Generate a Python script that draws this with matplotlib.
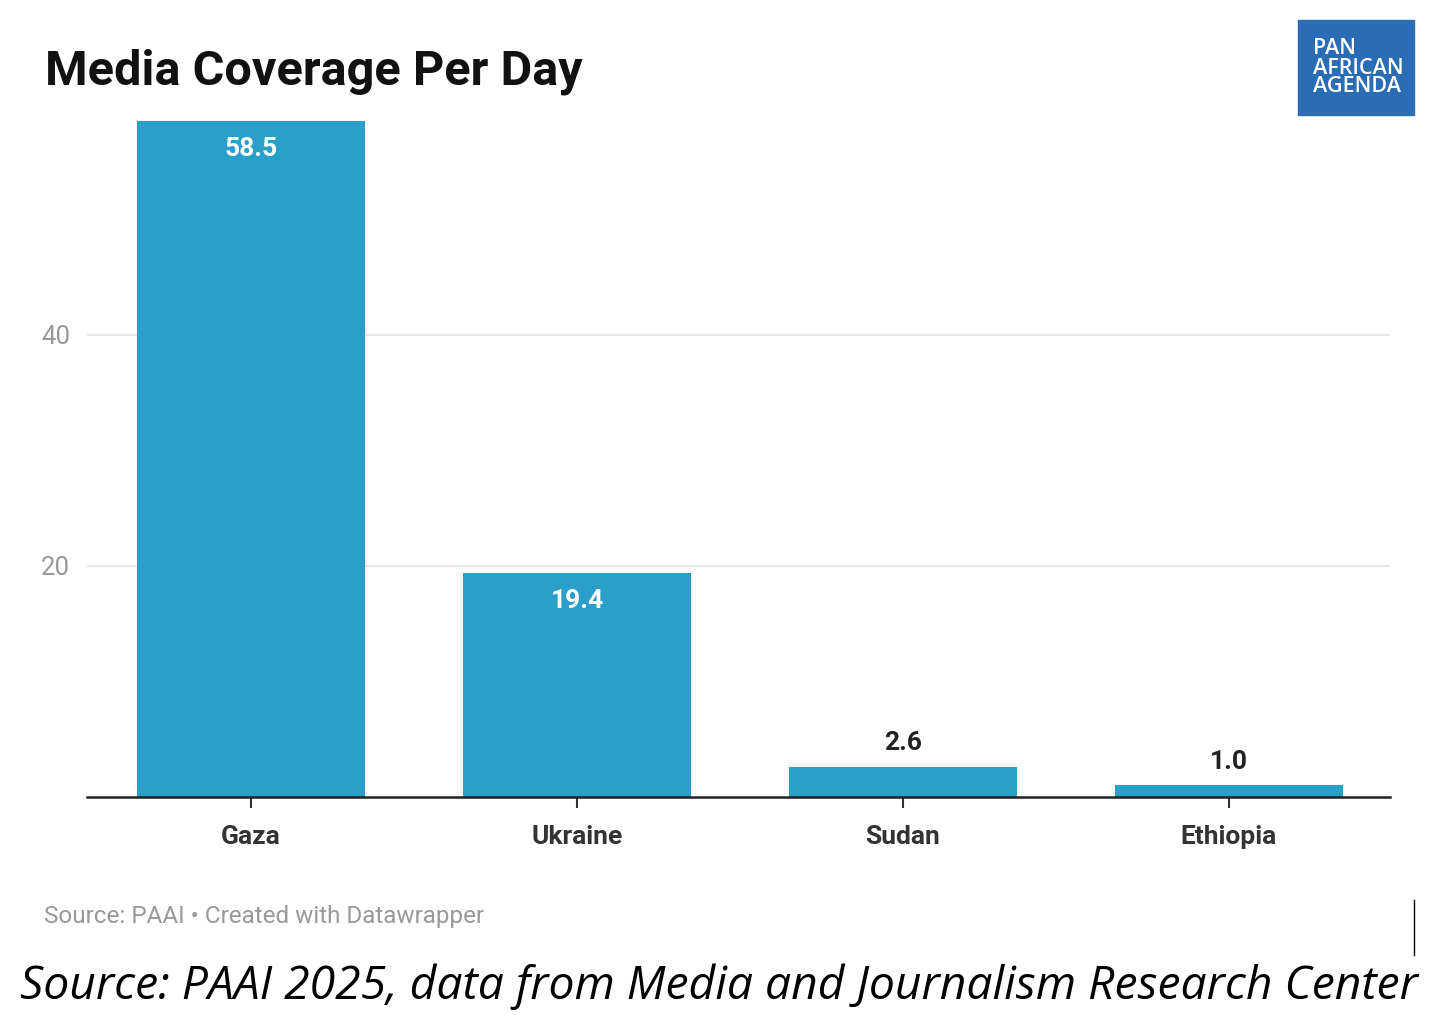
import matplotlib.pyplot as plt
from matplotlib.patches import Rectangle

categories = ['Gaza', 'Ukraine', 'Sudan', 'Ethiopia']
values = [58.5, 19.4, 2.6, 1.0]
yticks = [20, 40]

fig = plt.figure(figsize=(14.45, 10.36), dpi=100)
ax = fig.add_axes([87/1445, 1-797/1036, (1390-87)/1445, (797-121)/1036])

x = range(len(categories))
ax.bar(x, values, width=0.7, color='#2a9fc9', zorder=2)
ax.set_xlim(-0.503, 3.494)
ax.set_ylim(0, 58.5)

for i, v in enumerate(values):
    if v > 10:
        ax.text(i, v - 1.4, f'{v:.1f}', ha='center', va='top', color='white',
                fontsize=19, fontweight='bold', family='Roboto')
    else:
        ax.text(i, v + 1.0, f'{v:.1f}', ha='center', va='bottom', color='#222222',
                fontsize=19, fontweight='bold', family='Roboto')

ax.set_yticks(yticks)
ax.set_yticklabels([str(t) for t in yticks], fontsize=18.5, color='#999999', family='Roboto')
ax.grid(axis='y', color='#e3e3e3', linewidth=1.2, zorder=0)
ax.tick_params(axis='y', length=0, pad=12)
ax.set_xticks(list(x))
ax.set_xticklabels(categories, fontsize=19, fontweight='bold', color='#333333', family='Roboto')
ax.tick_params(axis='x', length=8, width=1.5, color='#333333', pad=12)
for s in ['top', 'right', 'left']:
    ax.spines[s].set_visible(False)
ax.spines['bottom'].set_linewidth(1.8)
ax.spines['bottom'].set_color('#222222')

fig.text(45/1445, 1-72/1036, 'Media Coverage Per Day', fontsize=35, fontweight='bold',
         family='Roboto', va='center', color='#111111')
fig.text(44/1445, 1-917/1036, 'Source: PAAI • Created with Datawrapper', fontsize=17.5,
         family='Roboto', va='center', color='#999999')
fig.text(20/1445, 1-987/1036, 'Source: PAAI 2025, data from Media and Journalism Research Center',
         fontsize=33.3, style='italic', family='Open Sans', va='center', color='black')
fig.add_artist(plt.Line2D([1414/1445]*2, [1-900/1036, 1-955/1036], color='black', lw=1))

fig.add_artist(Rectangle((1298/1445, 1-115/1036), 116/1445, 95/1036,
                         transform=fig.transFigure, color='#2a6db5'))
for j, t in enumerate(['PAN', 'AFRICAN', 'AGENDA']):
    fig.text(1313/1445, 1-(49 + j*19)/1036, t, fontsize=15.5, color='white',
             family='Open Sans', va='center', fontweight='semibold')

fig.savefig('out.png', dpi=100, facecolor='white')
